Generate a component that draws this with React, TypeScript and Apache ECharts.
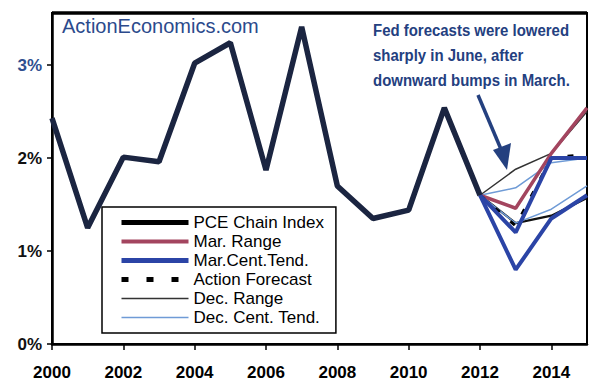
import React, { useEffect, useRef } from "react";
import * as echarts from "echarts";

// ---- data ----
const pceYears = [2000, 2001, 2002, 2003, 2004, 2005, 2006, 2007, 2008, 2009, 2010, 2011, 2012];
const pceValues = [2.43, 1.25, 2.01, 1.96, 3.02, 3.24, 1.87, 3.41, 1.7, 1.35, 1.44, 2.54, 1.6];

const fcYears = [2012, 2013, 2014, 2015];
const marRange = [1.6, 1.46, 2.05, 2.54];
const marCentUpper = [1.6, 1.2, 2.0, 2.0];
const marCentLower = [1.6, 0.8, 1.35, 1.6];
const actionForecast = [1.6, 1.27, 2.0, 2.04];
const decRangeUpper = [1.6, 1.88, 2.05, 2.5];
const decRangeLower = [1.6, 1.3, 1.38, 1.57];
const decCentUpper = [1.6, 1.68, 1.95, 2.0];
const decCentLower = [1.6, 1.3, 1.45, 1.7];

const xTickYears = [2000, 2002, 2004, 2006, 2008, 2010, 2012, 2014];
const yTicks = [0, 1, 2, 3];

const annotationLines = [
  "Fed forecasts were lowered",
  "sharply in June, after",
  "downward bumps in March.",
];

const pair = (xs: number[], ys: number[]) => xs.map((x, i) => [x, ys[i]]);

const NAVY = "#1b2541";
const BLUE = "#2b44a6";
const MAROON = "#a3455f";
const LIGHTBLUE = "#6f9bd6";
const GRAY = "#333333";
const FONT = "'Liberation Sans', Arial, sans-serif";

export default function App() {
  const ref = useRef<HTMLDivElement>(null);
  useEffect(() => {
    if (!ref.current) return;
    const chart = echarts.init(ref.current, undefined, { renderer: "svg" });
    const lineSeries = (name: string, data: number[][], color: string, width: number, extra: any = {}) => ({
      name,
      type: "line",
      data,
      symbol: "none",
      lineStyle: { color, width, ...(extra.lineStyle || {}) },
      itemStyle: { color },
      z: extra.z ?? 2,
    });
    chart.setOption({
      animation: false,
      backgroundColor: "#ffffff",
      grid: {
        left: 52,
        right: 3,
        top: 13,
        bottom: 39,
        show: true,
        borderColor: "#000",
        borderWidth: 2,
      },
      xAxis: {
        type: "value",
        min: 2000,
        max: 2015,
        interval: 2,
        splitLine: { show: false },
        axisLine: { lineStyle: { color: "#000", width: 2.5 } },
        axisTick: { show: true, length: 6, lineStyle: { color: "#000", width: 1.5 }, customValues: xTickYears },
        axisLabel: {
          customValues: xTickYears,
          formatter: (v: number) => String(v),
          color: "#000",
          fontSize: 17,
          fontWeight: "bold",
          fontFamily: FONT,
          margin: 20,
        },
      },
      yAxis: {
        type: "value",
        min: 0,
        max: 3.56,
        interval: 1,
        splitLine: { show: false },
        axisLine: { show: true, lineStyle: { color: "#000", width: 2.5 } },
        axisTick: { show: true, length: 5, lineStyle: { color: "#000", width: 1.5 }, customValues: yTicks },
        axisLabel: {
          customValues: yTicks,
          formatter: (v: number) => `${v}%`,
          color: (v: any) => (Number(v) === 3 ? "#2f4f8f" : "#111"),
          fontSize: 17,
          fontWeight: "bold",
          fontFamily: FONT,
          margin: 10,
        },
      },
      legend: {
        orient: "vertical",
        left: 102,
        top: 207,
        backgroundColor: "#fff",
        borderColor: "#000",
        borderWidth: 1.5,
        padding: [6, 12, 6, 17],
        itemWidth: 67,
        itemHeight: 8,
        itemGap: 0,
        itemStyle: { opacity: 0 },
        textStyle: { fontSize: 17, lineHeight: 19, color: "#000", fontFamily: FONT },
        data: [
          { name: "PCE Chain Index", lineStyle: { width: 5, color: "#000" } },
          { name: "Mar. Range", lineStyle: { width: 4, color: MAROON } },
          { name: "Mar.Cent.Tend.", lineStyle: { width: 5, color: BLUE } },
          { name: "Action Forecast", lineStyle: { type: [7, 18], width: 5, color: "#000" } },
          { name: "Dec. Range", lineStyle: { width: 1.5, color: GRAY } },
          { name: "Dec. Cent. Tend.", lineStyle: { width: 1.5, color: LIGHTBLUE } },
        ],
      },
      series: [
        lineSeries("Dec. Range", pair(fcYears, decRangeUpper), GRAY, 1.5, { z: 2 }),
        lineSeries("Dec. Range", pair(fcYears, decRangeLower), "#111", 2.2, { z: 2 }),
        lineSeries("Dec. Cent. Tend.", pair(fcYears, decCentUpper), LIGHTBLUE, 1.5, { z: 3 }),
        lineSeries("Dec. Cent. Tend.", pair(fcYears, decCentLower), LIGHTBLUE, 1.5, { z: 3 }),
        lineSeries("Mar. Range", pair(fcYears, marRange), MAROON, 3.5, { z: 4 }),
        lineSeries("Action Forecast", pair(fcYears, actionForecast), "#000", 3, { z: 4, lineStyle: { type: [6, 14] } }),
        lineSeries("Mar.Cent.Tend.", pair(fcYears, marCentUpper), BLUE, 4, { z: 5 }),
        lineSeries("Mar.Cent.Tend.", pair(fcYears, marCentLower), BLUE, 4, { z: 5 }),
        lineSeries("PCE Chain Index", pair(pceYears, pceValues), NAVY, 5.5, { z: 6 }),
      ],
      graphic: [
        {
          type: "line",
          shape: { x1: 52, y1: 13, x2: 587, y2: 13 },
          style: { stroke: "#000", lineWidth: 3.5 },
        },
        {
          type: "text",
          left: 62,
          top: 16,
          style: { text: "ActionEconomics.com", fill: "#2b4a8c", fontSize: 20, fontFamily: FONT },
        },
        {
          type: "text",
          x: 373,
          y: 18,
          scaleX: 0.88,
          style: {
            text: annotationLines.join("\n"),
            fill: "#24407f",
            fontSize: 17,
            lineHeight: 25,
            fontWeight: "bold",
            fontFamily: FONT,
          },
        },
        {
          type: "line",
          shape: { x1: 478, y1: 95, x2: 503, y2: 154 },
          style: { stroke: "#24407f", lineWidth: 3.5 },
        },
        {
          type: "polygon",
          shape: { points: [[493, 150], [511, 143], [507, 170]] },
          style: { fill: "#24407f" },
        },
      ],
    });
    return () => chart.dispose();
  }, []);
  return (
    <div
      ref={ref}
      style={{ position: "fixed", left: 0, top: 0, width: 590, height: 383, background: "#fff" }}
    />
  );
}
